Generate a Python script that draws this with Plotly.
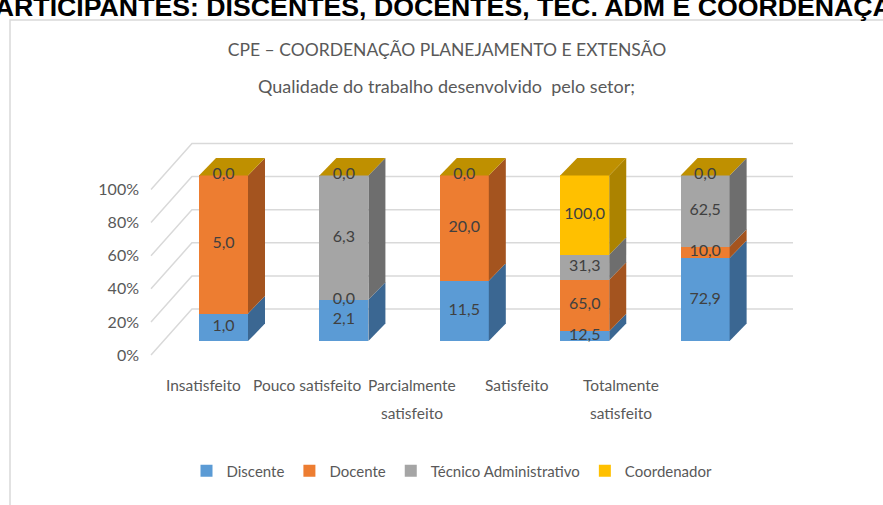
import plotly.graph_objects as go

# ---------------- data ----------------
categories = ["Insatisfeito", "Pouco satisfeito", "Parcialmente satisfeito", "Satisfeito", "Totalmente satisfeito"]
category_lines = [["Insatisfeito"], ["Pouco satisfeito"], ["Parcialmente", "satisfeito"],
                  ["Satisfeito"], ["Totalmente", "satisfeito"]]
series_names = ["Discente", "Docente", "Técnico Administrativo", "Coordenador"]
discente = [1.0, 2.1, 11.5, 12.5, 72.9]
docente = [5.0, 0.0, 20.0, 65.0, 10.0]
tecnico = [None, 6.3, None, 31.3, 62.5]
coordenador = [0.0, 0.0, 0.0, 100.0, 0.0]
y_ticks = [0, 20, 40, 60, 80, 100]
y_tick_labels = ["0%", "20%", "40%", "60%", "80%", "100%"]

header_text = "PARTICIPANTES: DISCENTES, DOCENTES, TEC. ADM E COORDENAÇÃO"
title_text = "CPE – COORDENAÇÃO PLANEJAMENTO E EXTENSÃO"
subtitle_text = "Qualidade do trabalho desenvolvido  pelo setor;"

# ---------------- styles ----------------
series_values = [discente, docente, tecnico, coordenador]
front_colors = ["#5B9BD5", "#ED7D31", "#A5A5A5", "#FFC000"]
side_colors = ["#3B6792", "#A4541F", "#6E6E6E", "#AC8300"]
top_colors = ["#4A7FB0", "#C0621F", "#8A8A8A", "#BF9000"]
FONT = "Lato, Roboto, sans-serif"
TXT = "#595959"

W, H = 883, 505
L, R = 140, 800          # plot area pixels (x)
T, B = 139, 361          # plot area pixels (y)
XR = [-0.6935, 4.788]
YR = [-12, 122]
px_x = (R - L) / (XR[1] - XR[0])
px_y = (B - T) / (YR[1] - YR[0])
BW = 49 / px_x            # bar width
DX = 17 / px_x            # depth of the bars
DY = 17.5 / px_y
TICK_SHIFT = 14 / px_y    # front-edge offset of value axis
GRID_FX, GRID_BX, GRID_EX = -0.602, -0.262, 4.730
GRID_FY, GRID_BY = -14 / px_y, 32 / px_y


def px_to_paper_y(py):
    return (B - py) / (B - T)


def px_to_paper_x(pxv):
    return (pxv - L) / (R - L)


fig = go.Figure()
xs = list(range(len(categories)))

# stacked 100% bars
for name, vals, col in zip(series_names, series_values, front_colors):
    fig.add_trace(go.Bar(x=xs, y=[v if v is not None else 0 for v in vals], name=name,
                         marker=dict(color=col, line=dict(width=0)), width=BW,
                         hoverinfo="skip"))

# percentages for 3D faces and labels
totals = [sum(v[i] for v in series_values if v[i] is not None) for i in xs]
lab_x, lab_y, lab_t = [], [], []
for i in xs:
    cum = 0.0
    top_series = 0
    for s, vals in enumerate(series_values):
        v = vals[i]
        if v is None:
            continue
        p = v / totals[i] * 100
        y0, y1 = cum, cum + p
        xr = i + BW / 2
        if p > 0:
            fig.add_trace(go.Scatter(
                x=[xr, xr + DX, xr + DX, xr, xr], y=[y0, y0 + DY, y1 + DY, y1, y0],
                mode="lines", fill="toself", fillcolor=side_colors[s],
                line=dict(width=0, color=side_colors[s]), showlegend=False, hoverinfo="skip"))
        lab_x.append(i)
        lab_y.append((y0 + y1) / 2)
        lab_t.append(f"{v:.1f}".replace(".", ","))
        cum = y1
        top_series = s
    xl, xr = i - BW / 2, i + BW / 2
    fig.add_trace(go.Scatter(
        x=[xl, xr, xr + DX, xl + DX, xl], y=[cum, cum, cum + DY, cum + DY, cum],
        mode="lines", fill="toself", fillcolor=top_colors[top_series],
        line=dict(width=0, color=top_colors[top_series]), showlegend=False, hoverinfo="skip"))

fig.add_trace(go.Scatter(x=lab_x, y=lab_y, text=lab_t, mode="text",
                         textfont=dict(family=FONT, size=16, color="#404040"),
                         showlegend=False, hoverinfo="skip", cliponaxis=False))

# helper trace for category-label / value-label axes
fig.add_trace(go.Scatter(x=[None], y=[None], xaxis="x2", yaxis="y2",
                         showlegend=False, hoverinfo="skip"))

# 3D gridlines (walls)
shapes = []
for t in y_ticks:
    shapes.append(dict(type="path", xref="x", yref="y", layer="below",
                       path=f"M{GRID_FX},{t + GRID_FY} L{GRID_BX},{t + GRID_BY} L{GRID_EX},{t + GRID_BY}",
                       line=dict(color="#D9D9D9", width=1.5)))
# chart frame
shapes.append(dict(type="rect", xref="paper", yref="paper",
                   x0=px_to_paper_x(10), x1=px_to_paper_x(900),
                   y0=px_to_paper_y(20), y1=px_to_paper_y(520),
                   line=dict(color="#D9D9D9", width=1.5), layer="below"))

annotations = []
for i, lines in enumerate(category_lines):
    for k, line in enumerate(lines):
        annotations.append(dict(x=i, y=px_to_paper_y(385 + 28 * k), xref="x2", yref="paper",
                                text=line, showarrow=False, xanchor="center", yanchor="middle",
                                font=dict(family=FONT, size=15.5, color=TXT)))
annotations.append(dict(x=px_to_paper_x(446), y=px_to_paper_y(86), xref="paper", yref="paper",
                        text=subtitle_text, showarrow=False, xanchor="center", yanchor="middle",
                        font=dict(family=FONT, size=18, color=TXT)))
annotations.append(dict(x=px_to_paper_x(-23), y=px_to_paper_y(7), xref="paper", yref="paper",
                        text=f"<b>{header_text}</b>", showarrow=False, xanchor="left", yanchor="middle",
                        font=dict(family="Liberation Sans, Arial, sans-serif", size=26.7, color="#000000")))

fig.update_layout(
    width=W, height=H,
    margin=dict(l=L, r=W - R, t=T, b=H - B, autoexpand=False),
    paper_bgcolor="white", plot_bgcolor="rgba(0,0,0,0)",
    barmode="stack", barnorm="percent",
    title=dict(text=title_text, x=px_to_paper_x(447), xref="paper", xanchor="center",
               y=1 - 50 / H, yref="container", yanchor="middle",
               font=dict(family=FONT, size=17.5, color=TXT)),
    xaxis=dict(range=XR, visible=False, fixedrange=True),
    yaxis=dict(range=YR, visible=False, fixedrange=True),
    xaxis2=dict(overlaying="x", range=[-0.603, -0.603 + (R - L) / 104.5], showticklabels=False,
                showgrid=False, zeroline=False, showline=False, ticks=""),
    yaxis2=dict(overlaying="y", side="left", range=[YR[0] + TICK_SHIFT, YR[1] + TICK_SHIFT],
                tickvals=y_ticks, ticktext=y_tick_labels, showgrid=False, zeroline=False,
                showline=False, ticks="", tickfont=dict(family=FONT, size=16, color=TXT)),
    legend=dict(orientation="h", x=px_to_paper_x(452), xanchor="center",
                y=px_to_paper_y(471), yanchor="middle", traceorder="normal",
                font=dict(family=FONT, size=15, color=TXT), itemclick=False),
    shapes=shapes, annotations=annotations, showlegend=True,
)

fig.write_html("out.html", config={"displayModeBar": False},
               post_script="document.body.style.margin='0';")
